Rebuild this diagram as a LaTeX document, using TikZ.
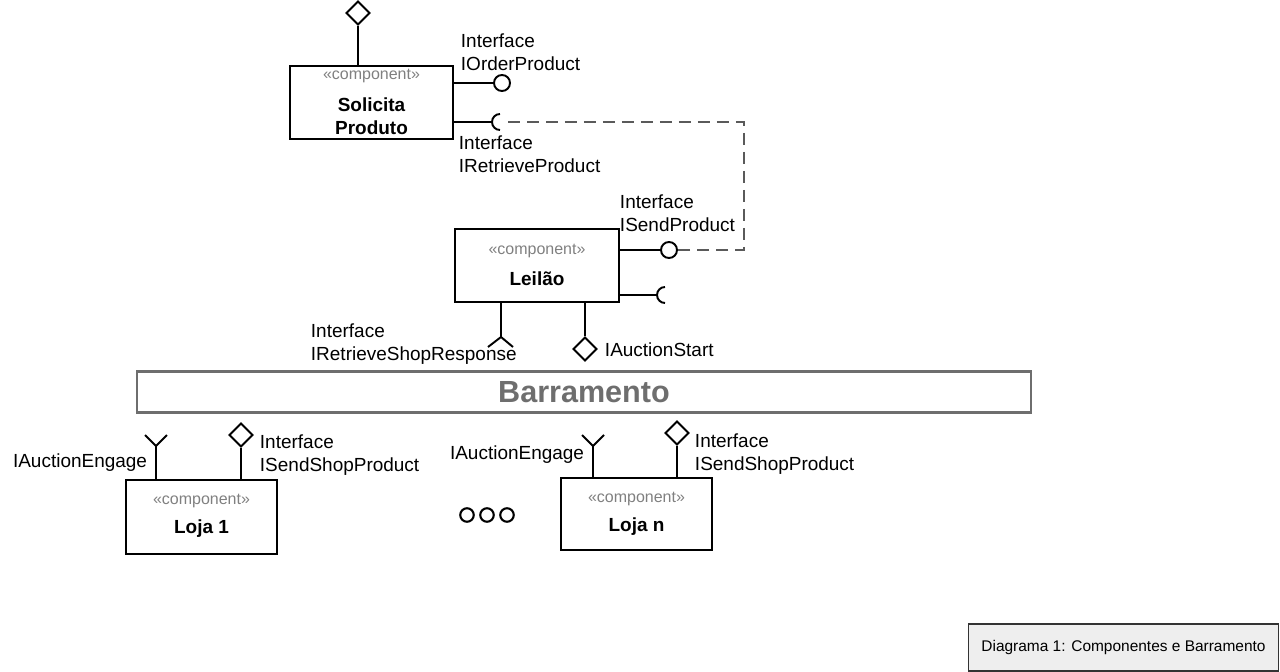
\documentclass[tikz,border=0pt]{standalone}
\usepackage{fontspec}
\setmainfont{Liberation Sans}
\usetikzlibrary{shapes.geometric}
\definecolor{stereogray}{HTML}{808080}
\definecolor{busgray}{HTML}{6E6E6E}
\definecolor{dashgray}{HTML}{5A5A5A}
\definecolor{capfill}{HTML}{EEEEEE}
\begin{document}
\begin{tikzpicture}[x=0.02cm,y=-0.02cm,line width=1.1pt,
	comp/.style={draw=black, line width=1.1pt, minimum height=1.46cm, inner sep=0},
	stereo/.style={text=stereogray, inner sep=0, font=\fontsize{9.1}{11}\selectfont},
	cname/.style={inner sep=0, align=center, font=\bfseries\fontsize{10.8}{13}\selectfont},
	lbl/.style={inner sep=0, align=left, font=\fontsize{10.8}{13}\selectfont},
	ball/.style={draw=black, circle, fill=white, minimum size=0.32cm, inner sep=0},
	rhomb/.style={draw=black, diamond, fill=white, minimum size=0.48cm, inner sep=0},
	dot/.style={draw=black, circle, line width=1.2pt, minimum size=0.27cm, inner sep=0},
	dashline/.style={draw=dashgray, line width=1.2pt, dash pattern=on 0.24cm off 0.14cm}]
		\useasboundingbox (0,0) rectangle (1280,672);
		\node[comp, minimum width=3.26cm] (solicita) at (371.5,102.5) {};
		\node[stereo] (solicitaSt) at (371.5,76) {«component»};
		\node[cname] (solicitaNm) at (371.5,116) {Solicita\\Produto};
		\node[rhomb] (solTop) at (358,13) {};	\draw (solicita.north -| solTop) -- (solTop.south);
		\node[ball] (orderBall) at (502,83) {};	\draw (orderBall.west -| solicita.east) -- (orderBall.west);
		\node[lbl, anchor=west] (orderLbl) at (460,52.5) {Interface\\IOrderProduct};
		\coordinate (retrSock) at (500,122);	\draw (retrSock -| solicita.east) -- ([xshift=-0.16cm]retrSock);
			\draw ([yshift=0.16cm]retrSock) arc[start angle=90, end angle=270, radius=0.16cm];
		\node[lbl, anchor=west] (retrLbl) at (458,154) {Interface\\IRetrieveProduct};
		\node[comp, minimum width=3.28cm] (leilao) at (537,265.5) {};
		\node[stereo] (leilaoSt) at (537,251) {«component»};
		\node[cname] (leilaoNm) at (537,279) {Leilão};
		\node[ball] (sendBall) at (669,250) {};	\draw (sendBall.west -| leilao.east) -- (sendBall.west);
		\node[lbl, anchor=west] (sendLbl) at (619,213) {Interface\\ISendProduct};
		\coordinate (bend) at (744,185);
		\draw[dashline] ([xshift=0.16cm]retrSock) -| (bend) |- (sendBall.east);
		\coordinate (leiSock) at (665,295);	\draw (leiSock -| leilao.east) -- ([xshift=-0.16cm]leiSock);
			\draw ([yshift=0.16cm]leiSock) arc[start angle=90, end angle=270, radius=0.16cm];
		\coordinate (shopFork) at (501,337);	\draw (leilao.south -| shopFork) -- (shopFork);
			\draw (shopFork) -- +(-13,10) (shopFork) -- +(12,10);
		\node[lbl, anchor=west] (shopLbl) at (310,344) {Interface\\IRetrieveShopResponse};
		\node[rhomb] (startRh) at (585,349) {};	\draw (leilao.south -| startRh) -- (startRh.north);
		\node[lbl, anchor=west] (startLbl) at (604,350) {IAuctionStart};
		\node[draw=busgray, line width=1.6pt, minimum width=17.88cm, minimum height=0.82cm, inner sep=0, text=busgray, font=\bfseries\fontsize{17.4}{20}\selectfont] (bus) at (584,392) {Barramento};
		\node[comp, minimum width=3.02cm, minimum height=1.48cm] (loja1) at (201.5,517) {};
		\node[stereo] (loja1St) at (201.5,501) {«component»};
		\node[cname] (loja1Nm) at (201.5,529) {Loja 1};
		\coordinate (engage1) at (156,446);	\draw (loja1.north -| engage1) -- (engage1);
			\draw (engage1) -- +(-11,-11) (engage1) -- +(11,-11);
		\node[lbl, anchor=east] (engage1Lbl) at (148,463) {IAuctionEngage};
		\node[rhomb] (shop1Rh) at (241,435) {};	\draw (loja1.north -| shop1Rh) -- (shop1Rh.south);
		\node[lbl, anchor=west] (shop1Lbl) at (259,455) {Interface\\ISendShopProduct};
		\foreach \x/\n in {467/a,487/b,507/c}
			\node[dot] (dot\n) at (\x,515) {};
		\node[comp, minimum width=3.02cm, minimum height=1.44cm] (lojaN) at (636.5,514) {};
		\node[stereo] (lojaNSt) at (636.5,499) {«component»};
		\node[cname] (lojaNNm) at (636.5,527) {Loja n};
		\coordinate (engageN) at (593,446);	\draw (lojaN.north -| engageN) -- (engageN);
			\draw (engageN) -- +(-11,-11) (engageN) -- +(11,-11);
		\node[lbl, anchor=east] (engageNLbl) at (585,455) {IAuctionEngage};
		\node[rhomb] (shopNRh) at (677,433) {};	\draw (lojaN.north -| shopNRh) -- (shopNRh.south);
		\node[lbl, anchor=west] (shopNLbl) at (694,454) {Interface\\ISendShopProduct};
		\node[draw=black!80, fill=capfill, line width=1pt, minimum width=6.2cm, minimum height=0.94cm, font=\fontsize{8.8}{10}\selectfont] (caption) at (1123.5,647.5) {Diagrama 1: Componentes e Barramento};
	\end{tikzpicture}
\end{document}
